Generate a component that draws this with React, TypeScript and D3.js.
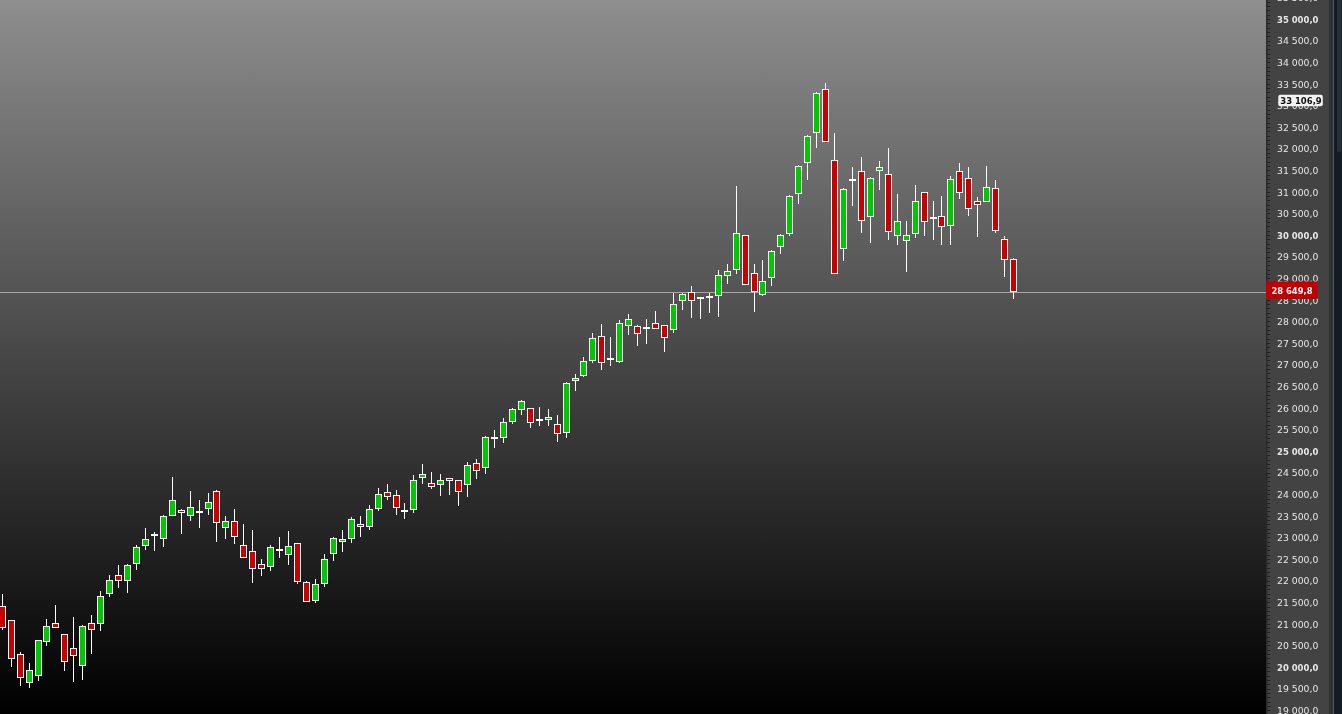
import React from "react";
import * as d3 from "d3";

const opens = [
  21389, 21058, 20271, 19600, 19762, 20563, 20989, 20734, 20410, 19993,
  20989, 20965, 21660, 22100, 21961, 22354, 22771, 23002, 22933, 23465,
  23604, 23465, 23572, 23627, 24044, 23188, 23350, 22794, 22655, 22354,
  22285, 22692, 22563, 22840, 21938, 21498, 21891, 22586, 22864, 22940,
  23280, 23211, 23627, 24021, 23952, 23595, 23604, 24345, 24229, 24183,
  24345, 24299, 24183, 24692, 24577, 25285, 25271, 25641, 25919, 25965,
  25701, 25688, 25595, 25387, 26590, 26706, 27053, 27632, 27113, 27044,
  27863, 27863, 27831, 27933, 27887, 27771, 28442, 28650, 28525, 28558,
  28558, 29021, 29160, 29970, 29090, 28581, 28975, 29692, 29993, 30919,
  31637, 32331, 33350, 31706, 29646, 31220, 31451, 30387, 31451, 31382,
  29947, 29831, 29993, 30965, 30377, 30410, 30178, 31451, 31289, 30757,
  30734, 31058, 29877, 29414,
];
const highs = [
  21667, 21058, 20317, 20070, 20609, 21088, 21412, 20734, 21134, 20942,
  21181, 21736, 22107, 22338, 22354, 22794, 23195, 23102, 23489, 24375,
  23627, 24051, 23843, 24005, 24067, 23472, 23634, 23287, 23148, 22477,
  22801, 22986, 23125, 22840, 21961, 22014, 22593, 22986, 23148, 23456,
  23472, 23727, 24120, 24213, 24074, 23773, 24421, 24676, 24491, 24445,
  24345, 24299, 24722, 24792, 25324, 25463, 25741, 25972, 26158, 25965,
  25995, 25949, 25810, 26567, 26759, 27146, 27708, 27917, 27616, 28009,
  28148, 27887, 28032, 28218, 27887, 28627, 28627, 28796, 28525, 28627,
  29167, 29306, 31111, 29970, 29306, 29398, 29630, 29993, 30896, 31590,
  32285, 33280, 33489, 32331, 31058, 31544, 31776, 31313, 31683, 31984,
  30919, 30294, 31127, 30965, 30757, 30873, 31336, 31637, 31544, 30850,
  31567, 31243, 29947, 29438,
];
const lows = [
  20834, 19984, 19544, 19498, 19660, 20470, 20873, 19891, 19637, 19683,
  20285, 20817, 21604, 21813, 21697, 22229, 22692, 22669, 22762, 23465,
  23063, 23364, 23202, 23502, 22877, 22947, 22831, 22493, 21928, 22090,
  22206, 22507, 22345, 21905, 21475, 21465, 21836, 22438, 22646, 22840,
  22993, 23148, 23595, 23850, 23496, 23410, 23549, 24220, 24104, 23942,
  23965, 23711, 23919, 24336, 24452, 25053, 25169, 25609, 25817, 25516,
  25563, 25563, 25192, 25285, 26373, 26683, 27021, 26859, 26951, 27021,
  27669, 27414, 27461, 27794, 27275, 27701, 28248, 28063, 28039, 28178,
  28086, 28850, 29067, 28813, 28194, 28558, 28803, 29544, 29961, 30702,
  31257, 31998, 32123, 29067, 29382, 30655, 30030, 29799, 31026, 29868,
  29752, 29127, 29900, 29961, 29868, 29752, 29752, 30817, 30424, 29938,
  30734, 30030, 29012, 28502,
];
const closes = [
  20873, 20155, 19715, 19901, 20595, 20919, 20873, 20086, 20225, 20919,
  20827, 21614, 21984, 21961, 22331, 22748, 22933, 23049, 23465, 23836,
  23535, 23674, 23572, 23790, 23303, 23350, 22979, 22493, 22239, 22239,
  22748, 22692, 22771, 21938, 21475, 21891, 22470, 22956, 22947, 23396,
  23211, 23627, 23975, 23905, 23651, 23595, 24299, 24438, 24137, 24299,
  24276, 24021, 24646, 24507, 25294, 25285, 25641, 25942, 26127, 25618,
  25701, 25757, 25364, 26544, 26660, 27053, 27586, 27007, 27113, 27933,
  28026, 27678, 27831, 27794, 27586, 28373, 28604, 28442, 28525, 28512,
  29044, 29137, 30016, 28813, 28650, 28905, 29600, 29970, 30873, 31567,
  32262, 33257, 32123, 29067, 31035, 31266, 30294, 31289, 31544, 30039,
  30294, 29970, 30757, 30271, 30377, 30155, 31266, 30942, 30572, 30664,
  31081, 30063, 29391, 28649.8,
];

const lastPrice = 28649.8;
const markerPrice = 33106.9;
const tickValues = d3.range(19000, 35501, 500);
const minorTickValues = d3.range(19000, 35601, 100);

const W = 1342;
const H = 714;
const AXIS_X = 1266;

const locale = d3.formatLocale({
  decimal: ",",
  thousands: " ",
  grouping: [3],
  currency: ["", ""],
});
const fmt = locale.format(",.1f");

export default function App() {
  const n = opens.length;
  const xs = d3.scaleLinear().domain([0, n - 1]).range([1.7, 1013.05]);
  const ys = d3.scaleLinear().domain([19000, 35000]).range([709.2, 18]);
  const green = "#00c800";
  const red = "#c80000";

  const candles = opens.map((o, i) => {
    const c = closes[i];
    const cx = Math.round(xs(i));
    const yH = Math.round(ys(highs[i]));
    const yL = Math.round(ys(lows[i]));
    const yT = Math.round(ys(Math.max(o, c)));
    const yB = Math.round(ys(Math.min(o, c)));
    const doji = o === c;
    const up = c > o;
    return (
      <g key={i}>
        <line x1={cx + 0.5} x2={cx + 0.5} y1={yH} y2={yL} stroke="#ffffff" strokeWidth={1} />
        {doji ? (
          <rect x={cx - 3} y={yT - 1} width={7} height={2} fill="#ffffff" />
        ) : (
          <rect
            x={cx - 2.5}
            y={yT + 0.5}
            width={6}
            height={Math.max(1, yB - yT - 1)}
            fill={up ? green : red}
            stroke="#ffffff"
            strokeWidth={1}
          />
        )}
      </g>
    );
  });

  const lastY = Math.round(ys(lastPrice)) + 0.5;
  const markY = ys(markerPrice);

  return (
    <svg
      width={W}
      height={H}
      style={{ position: "fixed", left: 0, top: 0, display: "block" }}
      fontFamily="'DejaVu Sans', sans-serif"
    >
      <defs>
        <linearGradient id="bg" x1="0" y1="0" x2="0" y2="1">
          <stop offset="0" stopColor="#8e8e8e" />
          <stop offset="1" stopColor="#000000" />
        </linearGradient>
      </defs>
      <rect x={0} y={0} width={AXIS_X} height={H} fill="url(#bg)" />
      <line x1={0} x2={AXIS_X} y1={lastY} y2={lastY} stroke="#a8a8a8" strokeWidth={1} />
      {candles}

      {/* right axis panel */}
      <rect x={AXIS_X} y={0} width={63} height={H} fill="#434343" />
      <rect x={AXIS_X} y={0} width={1.5} height={H} fill="#2a2a2a" />
      <rect x={1329} y={0} width={4.5} height={H} fill="#2e3236" />
      <rect x={1333.5} y={0} width={8.5} height={H} fill="#151b22" />
      <rect x={1337} y={-3} width={4.5} height={155} rx={2} fill="#262e37" />

      {minorTickValues.map((v) => (
        <line
          key={"m" + v}
          x1={AXIS_X + 1.5}
          x2={AXIS_X + 4}
          y1={Math.round(ys(v)) + 1.5}
          y2={Math.round(ys(v)) + 1.5}
          stroke="#1e1e1e"
          strokeWidth={1}
        />
      ))}
      {tickValues.map((v) => {
        const bold = v % 5000 === 0;
        return (
          <text
            key={"t" + v}
            x={1277}
            y={ys(v) + 1.5}
            dy="0.35em"
            fontSize={9.3}
            fill="#e6e6e6"
            fontWeight={bold ? "bold" : "normal"}
            textLength={bold ? 41.5 : undefined}
            lengthAdjust="spacingAndGlyphs"
          >
            {fmt(v)}
          </text>
        );
      })}

      {/* marker label */}
      <rect x={1278.3} y={markY - 5} width={44.5} height={11.5} rx={2} fill="#f2f2f2" />
      <text
        x={1301}
        y={markY + 0.8}
        dy="0.35em"
        textAnchor="middle"
        fontSize={9.3}
        fontWeight="bold"
        fill="#111111"
        textLength={41.5}
        lengthAdjust="spacingAndGlyphs"
      >
        {fmt(markerPrice)}
      </text>

      {/* last price label */}
      <rect x={AXIS_X} y={lastY - 11} width={51.5} height={17.5} fill="#c00000" />
      <text
        x={1292}
        y={lastY - 2.2}
        dy="0.35em"
        textAnchor="middle"
        fontSize={9.3}
        fontWeight="bold"
        fill="#ffffff"
        textLength={41}
        lengthAdjust="spacingAndGlyphs"
      >
        {fmt(lastPrice)}
      </text>
    </svg>
  );
}
